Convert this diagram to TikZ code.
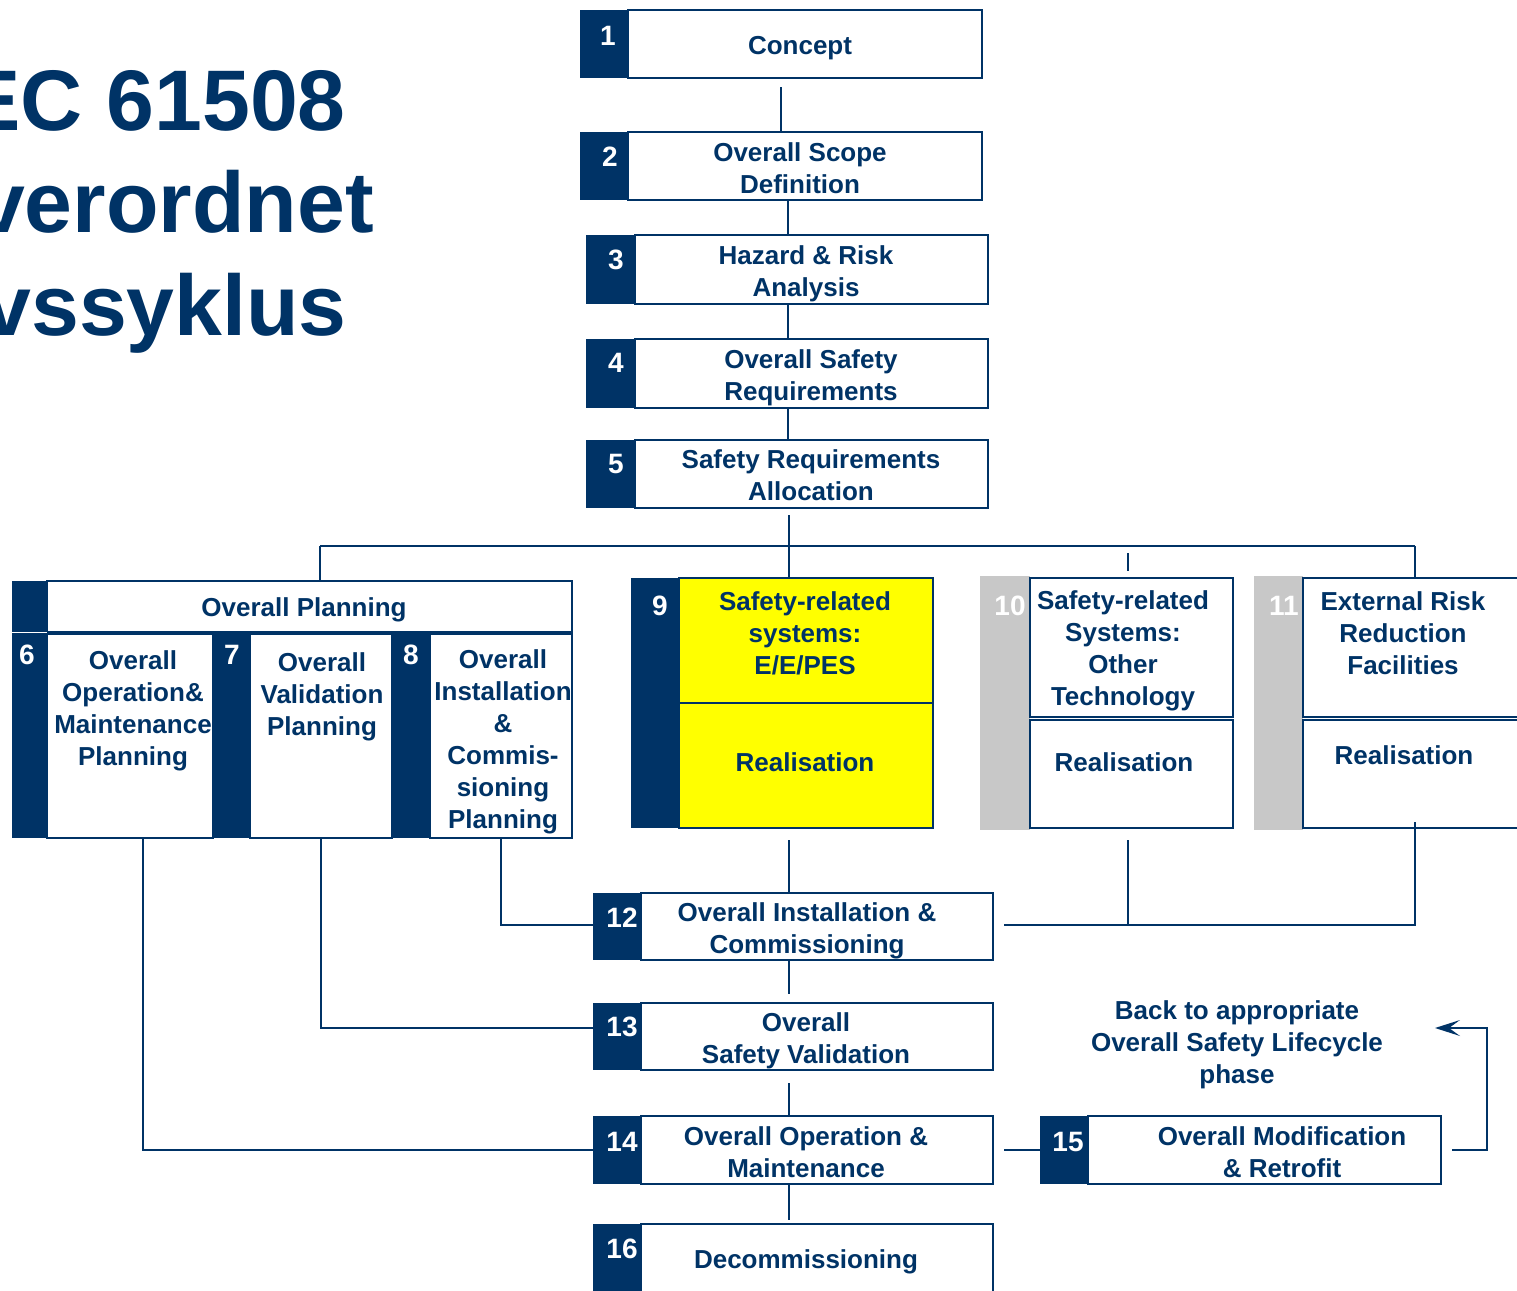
\documentclass[tikz,border=0pt]{standalone}
\usepackage{fontspec}
\setmainfont{Liberation Sans}
\usetikzlibrary{arrows.meta,calc}
\definecolor{navy}{RGB}{0,51,102}
\definecolor{lgrey}{RGB}{200,200,200}
\definecolor{yel}{RGB}{255,255,0}
\begin{document}
\begin{tikzpicture}[x=1pt,y=-1pt,
  nb/.style={fill=navy,draw=none,inner sep=0pt,outer sep=0pt,anchor=north west},
  gb/.style={fill=lgrey,draw=none,inner sep=0pt,outer sep=0pt,anchor=north west},
  wb/.style={draw=navy,line width=2.5pt,fill=white,inner sep=0pt,outer sep=0pt,anchor=north west},
  yb/.style={wb,fill=yel},
  txt/.style={text=navy,font=\bfseries\fontsize{26}{32}\selectfont,align=center,inner sep=0pt},
  num/.style={text=white,font=\bfseries\fontsize{28}{32}\selectfont,inner sep=0pt},
  ttl/.style={text=navy,font=\bfseries\fontsize{86}{102}\selectfont,inner sep=0pt,anchor=base east},
  conn/.style={draw=navy,line width=2pt},
  tiphead/.style={fill=navy,draw=none},
]
\clip (0,0) rectangle (1517,1290);
\useasboundingbox (0,0) rectangle (1517,1290);
\fill[white] (0,0) rectangle (1517,1290);

% title
\node[ttl] (t1) at (346,130) {IEC 61508};
\node[ttl] (t2) at (374,232) {Overordnet};
\node[ttl] (t3) at (347,335) {Livssyklus};

% stack 1-5
\node[nb,minimum width=48pt,minimum height=68pt] (n1) at (580,10) {};
\node[wb,minimum width=354pt,minimum height=68pt] (b1) at (628,10) {};
\node[nb,minimum width=48pt,minimum height=68pt] (n2) at (580,132) {};
\node[wb,minimum width=354pt,minimum height=68pt] (b2) at (628,132) {};
\node[nb,minimum width=49pt,minimum height=69pt] (n3) at (586,235) {};
\node[wb,minimum width=353pt,minimum height=69pt] (b3) at (635,235) {};
\node[nb,minimum width=49pt,minimum height=69pt] (n4) at (586,339) {};
\node[wb,minimum width=353pt,minimum height=69pt] (b4) at (635,339) {};
\node[nb,minimum width=49pt,minimum height=68pt] (n5) at (586,440) {};
\node[wb,minimum width=353pt,minimum height=68pt] (b5) at (635,440) {};

\node[txt] (x1) at (800,48) {Concept};
\node[txt] (x2) at (800,168) {Overall Scope\\Definition};
\node[txt] (x3) at (806,274) {Hazard \& Risk\\Analysis};
\node[txt] (x4) at (811,378) {Overall Safety\\Requirements};
\node[txt] (x5) at (811,475) {Safety Requirements\\Allocation};
\node[num] (k1) at (608,36) {1};
\node[num] (k2) at (610,157) {2};
\node[num] (k3) at (616,260) {3};
\node[num] (k4) at (616,363) {4};
\node[num] (k5) at (616,464) {5};

% overall planning 6-8
\node[nb,minimum width=35pt,minimum height=257pt] (n6) at (12,581) {};
\node[wb,minimum width=525pt,minimum height=51pt] (hp) at (47,581) {};
\node[wb,minimum width=166pt,minimum height=204pt] (b6) at (47,634) {};
\node[nb,minimum width=37pt,minimum height=205pt] (n7) at (213,633) {};
\node[wb,minimum width=142pt,minimum height=204pt] (b7) at (250,634) {};
\node[nb,minimum width=38pt,minimum height=205pt] (n8) at (392,633) {};
\node[wb,minimum width=142pt,minimum height=204pt] (b8) at (430,634) {};
\draw[white,line width=0.8pt] (12,632.5) -- (47,632.5);
\node[txt] (xh) at (304,610) {Overall Planning};
\node[txt] (x6) at (133,711) {Overall\\Operation\&\\Maintenance\\Planning};
\node[txt] (x7) at (322,697) {Overall\\Validation\\Planning};
\node[txt] (x8) at (503,742) {Overall\\Installation\\\&\\Commis-\\sioning\\Planning};
\node[num] (k6) at (27,655) {6};
\node[num] (k7) at (232,655) {7};
\node[num] (k8) at (411,655) {8};

% 9
\node[nb,minimum width=48pt,minimum height=250pt] (n9) at (631,578) {};
\node[yb,minimum width=254pt,minimum height=125pt] (b9a) at (679,578) {};
\node[yb,minimum width=254pt,minimum height=125pt] (b9b) at (679,703) {};
\node[txt] (x9) at (805,633) {Safety-related\\systems:\\E/E/PES};
\node[txt] (x9b) at (805,762) {Realisation};
\node[num] (k9) at (660,606) {9};

% 10
\node[gb,minimum width=50pt,minimum height=254pt] (n10) at (980,576) {};
\node[wb,minimum width=203pt,minimum height=139pt] (b10a) at (1030,578) {};
\node[wb,minimum width=203pt,minimum height=108pt] (b10b) at (1030,720) {};
\node[txt] (x10) at (1123,651) {Safety-related\\Systems:\\Other\\Technology};
\node[txt] (x10b) at (1124,762) {Realisation};
\node[num] (k10) at (1010,606) {10};

% 11
\node[gb,minimum width=49pt,minimum height=254pt] (n11) at (1254,576) {};
\node[wb,minimum width=240pt,minimum height=139pt] (b11a) at (1303,578) {};
\node[wb,minimum width=240pt,minimum height=108pt] (b11b) at (1303,720) {};
\node[txt] (x11) at (1403,633) {External Risk\\Reduction\\Facilities};
\node[txt] (x11b) at (1404,755) {Realisation};
\node[num] (k11) at (1284,606) {11};

% 12-16
\node[nb,minimum width=48pt,minimum height=67pt] (n12) at (593,893) {};
\node[wb,minimum width=352pt,minimum height=67pt] (b12) at (641,893) {};
\node[nb,minimum width=48pt,minimum height=67pt] (n13) at (593,1003) {};
\node[wb,minimum width=352pt,minimum height=67pt] (b13) at (641,1003) {};
\node[nb,minimum width=48pt,minimum height=68pt] (n14) at (593,1116) {};
\node[wb,minimum width=352pt,minimum height=68pt] (b14) at (641,1116) {};
\node[nb,minimum width=48pt,minimum height=80pt] (n16) at (593,1224) {};
\node[wb,minimum width=352pt,minimum height=80pt] (b16) at (641,1224) {};
\node[nb,minimum width=48pt,minimum height=68pt] (n15) at (1040,1116) {};
\node[wb,minimum width=353pt,minimum height=68pt] (b15) at (1088,1116) {};

\node[txt] (x12) at (807,931) {Overall Installation \&\\Commissioning};
\node[txt] (x13) at (806,1041) {Overall\\Safety Validation};
\node[txt] (x14) at (806,1152) {Overall Operation \&\\Maintenance};
\node[txt] (x16) at (806,1262) {Decommissioning};
\node[txt] (x15) at (1282,1152) {Overall Modification\\\& Retrofit};
\node[txt] (xb) at (1237,1045) {Back to appropriate\\Overall Safety Lifecycle\\phase};
\node[num] (k12) at (622,918) {12};
\node[num] (k13) at (622,1027) {13};
\node[num] (k14) at (622,1142) {14};
\node[num] (k16) at (622,1249) {16};
\node[num] (k15) at (1068,1142) {15};

% connectors top
\coordinate (t2) at ($(n2.north west)!.5!(b2.north east)$);
\coordinate (s1) at ($(n1.south west)!.5!(b1.south east)+(0,9)$);
\coordinate (t3) at ($(n3.north west)!.5!(b3.north east)+(1,0)$);
\coordinate (t4) at (b4.north -| t3);
\coordinate (t5) at (b5.north -| t3);
\draw[conn] (s1) -- (t2);
\draw[conn] (b2.south -| t3) -- (t3);
\draw[conn] (b3.south -| t4) -- (t4);
\draw[conn] (b4.south -| t5) -- (t5);
\coordinate (bus9) at (789,546);
\coordinate (j5) at (789,515);
\coordinate (busL) at (320,546);
\coordinate (busR) at (1415,546);
\coordinate (tk1) at (1128,553);
\coordinate (tk2) at (1128,571);
\draw[conn] (j5) -- (bus9);
\draw[conn] (busL) -- (busR);
\draw[conn] (busL) -- (busL |- hp.north);
\draw[conn] (bus9) -- (bus9 |- b9a.north);
\draw[conn] (busR) -- (busR |- b11a.north);
\draw[conn] (tk1) -- (tk2);

% connectors lower
\coordinate (c6) at (143,1150);
\coordinate (c7) at (321,1028);
\coordinate (c8) at (501,925);
\draw[conn] (b6.south -| c6) -- (c6) -- (n14.west |- c6);
\draw[conn] (b7.south -| c7) -- (c7) -- (n13.west |- c7);
\draw[conn] (b8.south -| c8) -- (c8) -- (n12.west |- c8);
\coordinate (c9) at (789,840);
\draw[conn] (c9) -- (c9 |- b12.north);
\coordinate (c10) at (1128,840);
\coordinate (j10) at (1128,925);
\coordinate (h12) at (1004,925);
\coordinate (j11) at (1415,925);
\coordinate (e11) at (1415,822);
\draw[conn] (c10) -- (j10);
\draw[conn] (h12) -- (j11) -- (e11);
\coordinate (e13) at (789,994);
\coordinate (s13) at (789,1083);
\coordinate (e16) at (789,1220);
\draw[conn] (b12.south -| c9) -- (e13);
\draw[conn] (s13) -- (b14.north -| c9);
\draw[conn] (b14.south -| c9) -- (e16);
\coordinate (h14) at (1004,1150);
\draw[conn] (h14) -- (n15.west);
\coordinate (r1) at (1452,1150);
\coordinate (r2) at (1487,1150);
\coordinate (r3) at (1487,1028);
\coordinate (r4) at (1435,1028);
\coordinate (r5) at (1448,1028);
\draw[conn] (r1) -- (r2) -- (r3) -- (r5);
\fill[tiphead] (r4) -- ++(25,-8) -- ++(-11,8) -- ++(11,8) -- cycle;
\end{tikzpicture}
\end{document}
